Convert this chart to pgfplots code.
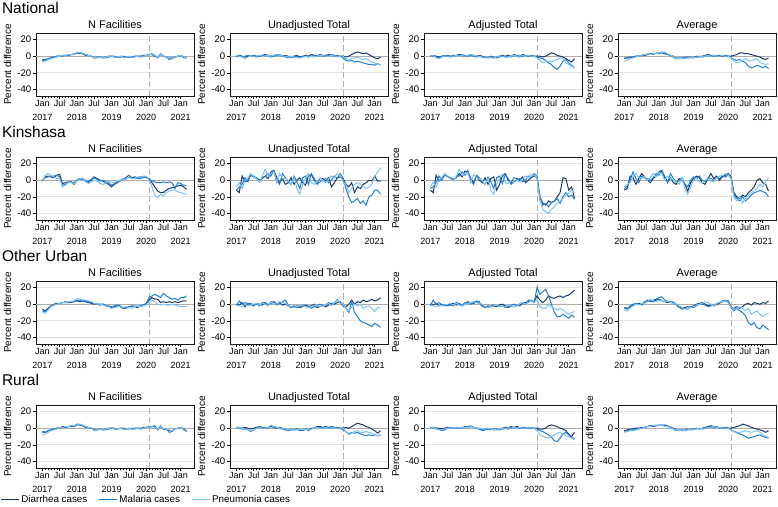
\documentclass[border=0pt]{standalone}
\usepackage{pgfplots}
\usepackage{pgfplotstable}
\pgfplotsset{compat=1.18}
\usepackage{fontspec}
\setmainfont{Liberation Sans}
\definecolor{cD}{HTML}{1B3A6B}
\definecolor{cM}{HTML}{1F7FD6}
\definecolor{cP}{HTML}{7DC3F2}

\pgfplotstableread{
m d ma pn
0 -4 -5 -7
1 -5 -4 -6
2 -3 -3 -4
3 -2 -2 -3
4 -1 -1 -2
5 0 0 -1
6 0 0 0
7 1 0 1
8 1 1 1
9 1 1 2
10 2 2 2
11 2 3 2
12 4 4 5
13 3 4 4
14 3 3 4
15 1 2 2
16 1 1 1
17 0 0 0
18 -2 -2 -2
19 -1 -2 -1
20 -1 -1 -1
21 -2 -2 -2
22 -1 -2 -1
23 0 -1 0
24 0 0 0
25 -1 0 -1
26 -1 -1 -1
27 -1 0 0
28 0 -1 -1
29 -1 -1 -1
30 -1 -1 0
31 -1 0 -1
32 0 -1 -1
33 0 0 0
34 0 -1 0
35 1 0 0
36 1 1 1
37 2 2 2
38 2 3 2
39 0 1 1
40 -1 -2 -1
41 2 3 2
42 0 0 0
43 -1 -1 -1
44 -2 -4 -2
45 -2 -3 -2
46 -1 -1 -1
47 0 0 0
48 1 1 1
49 -1 -2 -1
50 -2 -2 -2
}\tNatNF

\pgfplotstableread{
m d ma pn
0 0 1 1
1 1 0 0
2 0 -1 -1
3 -1 0 -3
4 0 1 -1
5 0 0 0
6 1 0 0
7 0 -1 0
8 0 0 1
9 1 1 0
10 2 0 0
11 1 1 1
12 0 -1 0
13 1 0 1
14 2 1 2
15 1 2 1
16 0 0 0
17 1 -1 0
18 0 -2 -1
19 -1 -1 0
20 0 -1 -1
21 1 0 -2
22 -1 -2 -2
23 0 -1 -1
24 1 0 0
25 0 -1 -1
26 2 0 0
27 1 1 -1
28 0 0 0
29 2 1 1
30 1 0 1
31 1 0 0
32 2 1 0
33 1 2 1
34 0 1 0
35 1 0 0
36 0 0 0
37 0 -2 0
38 -1 -5 -3
39 0 -6 -5
40 2 -5 -3
41 4 -7 -2
42 5 -6 -1
43 4 -7 -3
44 3 -8 -4
45 4 -9 -3
46 2 -10 -5
47 0 -10 -7
48 -2 -11 -8
49 -3 -9 -10
50 -1 -11 -10
}\tNatUn

\pgfplotstableread{
m d ma pn
0 0 1 0
1 1 0 1
2 0 -1 -2
3 -1 -2 -3
4 0 0 -1
5 0 1 0
6 1 0 0
7 0 -1 0
8 1 0 0
9 1 1 1
10 2 1 0
11 1 2 1
12 0 1 0
13 1 0 1
14 2 1 2
15 1 0 1
16 0 -1 0
17 1 0 0
18 0 -1 -1
19 -1 -2 -1
20 -2 -1 -1
21 -1 0 -2
22 -2 -1 -2
23 -1 -2 -1
24 0 -1 0
25 1 0 0
26 0 -1 -1
27 1 0 -1
28 0 -1 0
29 2 1 1
30 1 0 0
31 0 -1 0
32 2 0 1
33 1 1 0
34 0 0 1
35 1 0 0
36 0 0 0
37 0 -1 -2
38 0 -2 -5
39 -1 -3 -8
40 0 -5 -7
41 2 -8 -6
42 4 -10 -7
43 3 -14 -5
44 1 -16 -4
45 0 -12 -2
46 -1 -6 -3
47 -3 -4 -8
48 -5 -8 -10
49 -7 -11 -12
50 -3 -14 -14
}\tNatAd

\pgfplotstableread{
m d ma pn
0 -2 -3 -6
1 -2 -2 -5
2 -1 -2 -3
3 -1 -1 -2
4 0 0 -1
5 0 0 0
6 1 1 1
7 1 2 2
8 2 2 3
9 3 3 2
10 3 2 3
11 3 4 3
12 4 3 4
13 4 5 4
14 3 4 5
15 2 2 3
16 1 1 1
17 0 -1 0
18 -2 -3 -2
19 -3 -2 -3
20 -2 -3 -2
21 -2 -1 -3
22 -1 -2 -2
23 -1 -2 -1
24 -2 -1 -2
25 0 -1 -1
26 -1 0 -1
27 0 -1 0
28 1 0 0
29 2 1 1
30 1 0 0
31 1 0 1
32 0 1 0
33 1 0 0
34 0 0 1
35 1 0 0
36 0 0 0
37 0 -2 -2
38 1 -4 -6
39 2 -5 -8
40 4 -4 -7
41 4 -6 -5
42 3 -8 -3
43 3 -12 -5
44 2 -14 -6
45 1 -13 -4
46 0 -11 -3
47 -1 -12 -7
48 -3 -14 -9
49 -4 -12 -10
50 -2 -15 -9
}\tNatAv

\pgfplotstableread{
m d ma pn
0 -1 0 -2
1 4 3 6
2 5 4 8
3 4 5 6
4 3 5 4
5 6 6 2
6 7 4 2
7 -4 -6 -8
8 -3 -5 -6
9 -2 -3 -2
10 -2 -2 -3
11 -5 -3 -4
12 0 0 -1
13 1 2 1
14 2 1 3
15 -1 0 -2
16 -2 -3 -4
17 1 0 -2
18 4 3 0
19 2 1 -1
20 0 -1 -4
21 -1 0 -5
22 -3 -2 -3
23 -5 -3 -1
24 -8 -6 -2
25 -5 -4 -3
26 -3 -2 -1
27 0 -1 0
28 1 2 1
29 3 2 1
30 6 4 5
31 3 2 2
32 4 3 2
33 3 2 4
34 4 2 3
35 4 3 5
36 3 4 5
37 2 1 0
38 -3 -1 -8
39 -8 -2 -18
40 -13 -3 -21
41 -15 -3 -17
42 -15 -2 -19
43 -12 -3 -15
44 -10 -2 -13
45 -9 -3 -12
46 -8 -10 -12
47 -7 -3 -14
48 -6 -4 -15
49 -8 -6 -16
50 -11 -7 -17
}\tKinNF

\pgfplotstableread{
m d ma pn
0 -12 -12 -8
1 -15 -8 -3
2 5 -5 -10
3 -2 3 0
4 0 -2 3
5 6 7 8
6 4 5 4
7 3 2 2
8 0 -2 -2
9 2 3 5
10 5 5 13
11 2 8 5
12 10 5 8
13 12 12 10
14 3 0 -3
15 -3 -5 8
16 2 8 2
17 -5 3 2
18 -3 -2 0
19 3 -5 -5
20 -5 5 3
21 0 -2 -10
22 3 -10 -17
23 -3 3 -5
24 -6 5 3
25 5 -5 8
26 7 8 -3
27 0 2 -5
28 -3 -5 -2
29 2 -2 3
30 2 0 0
31 -1 2 -3
32 3 -3 2
33 -8 0 5
34 -3 5 3
35 3 2 8
36 4 8 6
37 2 3 -2
38 -5 -10 -5
39 -8 -20 -15
40 -3 -27 -10
41 -15 -25 -5
42 -8 -22 -3
43 -10 -28 -5
44 -5 -25 -8
45 -3 -30 -10
46 0 -20 -8
47 -1 -18 -5
48 5 -12 5
49 -1 -12 10
50 -1 -17 15
}\tKinUn

\pgfplotstableread{
m d ma pn
0 -12 -10 -8
1 -15 -8 -2
2 6 -3 -8
3 -1 5 0
4 2 0 3
5 6 7 8
6 5 4 5
7 3 2 2
8 1 0 -1
9 3 4 5
10 8 5 13
11 4 10 6
12 11 6 8
13 10 12 9
14 2 0 -3
15 -3 -5 7
16 5 6 3
17 0 3 2
18 -3 -2 0
19 3 -5 -5
20 -5 4 2
21 2 -2 -12
22 4 -10 -17
23 -12 3 -5
24 -5 5 3
25 5 -4 7
26 8 7 -3
27 0 2 -4
28 -3 -5 -1
29 3 -2 3
30 2 0 0
31 0 2 -2
32 4 -2 2
33 -3 0 5
34 0 5 3
35 3 3 7
36 5 8 6
37 3 5 2
38 -20 -20 -25
39 -28 -30 -35
40 -30 -28 -38
41 -25 -32 -40
42 -27 -27 -35
43 -25 -25 -32
44 -20 -22 -28
45 -15 -28 -25
46 3 -20 -22
47 2 -15 -18
48 -12 -20 -15
49 -8 -18 -12
50 -22 -23 -15
}\tKinAd

\pgfplotstableread{
m d ma pn
0 -12 -10 -8
1 -10 -7 -5
2 5 0 -3
3 3 10 5
4 -5 2 8
5 2 -3 3
6 8 5 2
7 4 3 5
8 0 2 0
9 -3 0 3
10 2 3 8
11 5 8 4
12 10 6 9
13 12 11 8
14 3 5 0
15 -2 -3 5
16 3 8 2
17 -3 2 0
18 -5 -3 -2
19 2 0 -5
20 0 3 3
21 -5 -5 -10
22 -13 -8 -17
23 -3 0 -8
24 2 4 0
25 5 2 3
26 3 5 -2
27 -3 0 -3
28 -5 -2 0
29 2 3 2
30 8 2 -1
31 2 0 -2
32 5 3 3
33 0 2 5
34 4 5 6
35 6 4 8
36 8 6 7
37 5 3 2
38 -15 -18 -20
39 -20 -22 -25
40 -22 -25 -20
41 -18 -20 -27
42 -20 -25 -22
43 -15 -22 -18
44 -12 -18 -15
45 -8 -15 -13
46 0 -14 -10
47 2 -12 -5
48 -3 -14 -8
49 -5 -15 -2
50 -13 -20 3
}\tKinAv

\pgfplotstableread{
m d ma pn
0 -6 -8 -10
1 -8 -9 -11
2 -5 -6 -7
3 -2 -3 -3
4 0 -1 -1
5 1 0 0
6 1 1 1
7 2 2 2
8 3 2 2
9 2 2 3
10 2 3 3
11 3 3 4
12 4 5 7
13 3 4 6
14 4 5 5
15 3 4 5
16 2 3 4
17 1 2 3
18 0 1 1
19 0 0 0
20 -1 0 0
21 0 0 -1
22 -2 -1 -1
23 -3 -2 -3
24 -4 -3 -5
25 -3 -2 -4
26 -2 -1 -3
27 -3 -2 -3
28 -5 -4 -4
29 -4 -5 -3
30 -3 -3 -4
31 -2 -3 -5
32 -3 -2 -3
33 -4 -3 -2
34 -2 -2 -3
35 -1 -1 -2
36 0 1 -1
37 5 8 3
38 8 10 5
39 6 12 3
40 6 10 0
41 2 8 -1
42 3 13 0
43 2 10 -1
44 3 8 -1
45 2 6 0
46 3 7 -1
47 2 5 -2
48 3 8 -3
49 4 8 -3
50 4 10 -3
}\tOUNF

\pgfplotstableread{
m d ma pn
0 0 -2 -1
1 -1 4 -2
2 2 0 -3
3 -3 2 0
4 1 0 -2
5 0 1 -1
6 -2 -1 0
7 1 0 1
8 0 -2 -1
9 -1 2 1
10 2 1 0
11 -1 -1 -2
12 1 3 2
13 3 2 1
14 0 -1 0
15 2 1 3
16 -1 3 2
17 0 5 1
18 -2 -1 -2
19 -4 -3 -3
20 -3 -2 -4
21 -2 -4 -3
22 -4 -3 -1
23 -3 -1 -2
24 -1 -3 -3
25 -3 -2 -4
26 -2 -5 -3
27 0 -3 -1
28 -4 -2 -2
29 -3 0 -3
30 -1 -2 -2
31 -3 -1 0
32 -1 2 1
33 1 0 -2
34 0 2 2
35 2 5 6
36 3 2 1
37 -2 0 0
38 -3 -5 -5
39 0 -10 -8
40 5 3 -3
41 0 -10 0
42 3 -15 -2
43 2 -20 0
44 5 -22 -5
45 3 -23 -3
46 4 -25 -2
47 6 -27 -5
48 4 -23 -9
49 5 -25 -4
50 8 -28 -5
}\tOUUn

\pgfplotstableread{
m d ma pn
0 0 -2 -1
1 -1 5 -2
2 1 0 -3
3 -2 2 -1
4 0 -1 -2
5 -2 0 -1
6 -1 -2 0
7 0 -1 1
8 1 -2 -1
9 -1 2 1
10 0 1 -1
11 -2 -1 -2
12 0 2 0
13 3 1 1
14 2 0 2
15 1 2 3
16 3 4 2
17 1 3 1
18 -2 -3 0
19 -4 -3 -3
20 -2 -4 -4
21 -3 -2 -3
22 -2 -1 -2
23 -3 -2 -1
24 -1 -3 -3
25 0 -2 -2
26 -2 -4 -3
27 -4 -3 -1
28 -2 -1 -2
29 -3 0 -3
30 -1 -2 -2
31 -2 -1 1
32 1 2 2
33 2 0 0
34 3 5 2
35 4 5 4
36 3 2 2
37 10 20 5
38 5 12 -3
39 2 15 -5
40 5 18 -5
41 10 10 0
42 8 0 -3
43 7 -10 -5
44 9 -15 -7
45 10 -15 -5
46 8 -12 -7
47 10 -15 -10
48 11 -17 -12
49 14 -13 -10
50 17 -16 -9
}\tOUAd

\pgfplotstableread{
m d ma pn
0 -4 -5 -7
1 -5 -6 -8
2 -3 -2 -5
3 -1 0 -2
4 0 1 0
5 1 0 -1
6 0 -1 1
7 2 3 1
8 5 4 3
9 4 3 6
10 3 5 4
11 5 6 3
12 6 8 5
13 4 9 4
14 3 5 3
15 2 3 4
16 3 2 2
17 1 3 1
18 0 -1 0
19 -3 -4 -2
20 -5 -6 -4
21 -4 -5 -6
22 -3 -6 -5
23 -4 -3 -4
24 -2 -4 -3
25 0 -2 -1
26 1 0 0
27 2 0 1
28 0 -1 3
29 -2 -3 2
30 -1 -2 0
31 -2 -1 -2
32 0 1 1
33 1 2 2
34 3 4 3
35 4 5 4
36 4 3 2
37 -3 -4 -3
38 -5 -8 -6
39 -3 -5 -5
40 -5 -8 -3
41 -3 -10 -5
42 0 -14 -8
43 1 -22 -5
44 -1 -25 -12
45 2 -22 -10
46 1 -28 -8
47 0 -30 -12
48 2 -25 -15
49 1 -28 -12
50 4 -31 -11
}\tOUAv

\pgfplotstableread{
m d ma pn
0 -4 -5 -8
1 -5 -5 -7
2 -3 -3 -5
3 -2 -2 -3
4 -1 -1 -2
5 0 0 -1
6 0 0 0
7 2 1 1
8 1 1 2
9 2 2 2
10 2 3 3
11 2 2 3
12 4 5 5
13 4 4 5
14 3 3 4
15 1 2 2
16 1 1 1
17 0 0 0
18 -2 -2 -3
19 -2 -2 -2
20 -1 -1 -1
21 -2 -2 -2
22 -1 -2 -1
23 0 -1 0
24 0 0 0
25 0 -1 0
26 -1 -1 -1
27 0 0 0
28 0 -1 -1
29 -1 -1 -1
30 0 -1 0
31 -1 0 -1
32 0 -1 -1
33 0 0 0
34 0 -1 0
35 1 0 0
36 1 1 1
37 1 2 1
38 2 2 2
39 2 3 1
40 -1 -2 -1
41 2 3 2
42 -1 -1 0
43 -1 -1 -1
44 -3 -5 -2
45 -3 -4 -3
46 -1 -1 -1
47 0 0 0
48 1 1 1
49 -1 -2 -2
50 -3 -4 -4
}\tRuNF

\pgfplotstableread{
m d ma pn
0 1 1 0
1 1 0 1
2 0 -1 0
3 1 -1 -1
4 0 -2 -2
5 -1 -4 -3
6 0 -2 -2
7 1 0 0
8 2 1 1
9 1 0 0
10 0 1 0
11 1 0 1
12 2 3 1
13 1 2 2
14 0 1 1
15 1 0 0
16 0 -1 0
17 -1 -2 -1
18 -2 -3 -2
19 -1 -2 -1
20 -2 -2 -2
21 -1 -1 -2
22 -2 -3 -1
23 -3 -2 -2
24 -1 -1 -1
25 -2 -3 -2
26 0 -1 -1
27 0 0 0
28 2 1 1
29 2 1 0
30 1 0 0
31 2 1 1
32 1 0 0
33 2 0 1
34 1 1 0
35 1 0 0
36 0 0 0
37 0 -2 0
38 1 -4 -4
39 0 -7 -8
40 2 -5 -6
41 4 -6 -4
42 6 -5 -3
43 5 -7 -5
44 4 -8 -5
45 2 -9 -4
46 1 -8 -5
47 -1 -9 -6
48 -3 -8 -8
49 -6 -9 -9
50 -3 -8 -9
}\tRuUn

\pgfplotstableread{
m d ma pn
0 1 1 0
1 1 0 1
2 0 0 -1
3 0 -1 -2
4 -1 -3 -2
5 0 -2 -1
6 1 0 0
7 0 1 0
8 1 0 1
9 0 1 0
10 1 0 1
11 0 1 0
12 2 1 1
13 1 2 1
14 2 3 2
15 1 1 1
16 0 0 0
17 -1 -1 0
18 -2 -3 -1
19 -1 -2 -1
20 0 -1 0
21 -1 -2 -1
22 -2 -1 -2
23 -1 -2 -1
24 -2 -1 -1
25 0 -1 0
26 1 0 0
27 0 -1 0
28 2 1 0
29 1 0 1
30 2 1 0
31 1 0 1
32 1 0 0
33 0 1 0
34 1 0 1
35 0 0 0
36 0 0 0
37 0 -1 -3
38 -1 -3 -8
39 -1 -4 -10
40 0 -6 -11
41 3 -8 -12
42 4 -11 -10
43 3 -15 -8
44 2 -16 -6
45 0 -12 -5
46 -1 -7 -7
47 -3 -5 -9
48 -7 -8 -10
49 -10 -11 -12
50 -5 -13 -14
}\tRuAd

\pgfplotstableread{
m d ma pn
0 -3 -4 -5
1 -2 -3 -4
2 -1 -2 -3
3 -1 -1 -3
4 0 -2 -2
5 0 -1 -1
6 1 0 0
7 1 1 1
8 2 2 2
9 3 3 2
10 2 3 3
11 3 3 4
12 3 4 3
13 4 3 4
14 3 4 2
15 2 3 2
16 1 1 0
17 0 -1 -1
18 -2 -3 -2
19 -3 -2 -3
20 -2 -3 -2
21 -3 -2 -3
22 -1 -2 -2
23 -2 -1 -1
24 -1 -1 -2
25 0 -1 0
26 -1 0 -1
27 0 -1 0
28 1 0 0
29 2 1 1
30 3 2 1
31 2 1 2
32 1 2 1
33 1 0 1
34 0 1 0
35 1 0 0
36 0 0 0
37 0 -2 -2
38 1 -4 -4
39 2 -5 -6
40 3 -7 -5
41 5 -8 -4
42 4 -10 -3
43 3 -12 -4
44 1 -11 -5
45 0 -10 -4
46 -1 -9 -3
47 -2 -8 -5
48 -3 -10 -8
49 -5 -11 -10
50 -3 -12 -11
}\tRuAv

\pgfplotsset{panel/.style={
  scale only axis, width=158pt, height=63pt,
  anchor=north west,
  xmin=-2.2, xmax=52.6, ymin=-48, ymax=28,
  xtick={0,6,...,48},
  xticklabels={{Jan\\2017},Jul,{Jan\\2018},Jul,{Jan\\2019},Jul,{Jan\\2020},Jul,{Jan\\2021}},
  minor x tick num=5,
  ytick={-40,-20,0,20}, yticklabels={-40,-20,0,20},
  tick align=outside, major tick length=3pt, minor tick length=1.6pt,
  xtick pos=bottom, ytick pos=left,
  tick style={black, line width=0.5pt},
  ymajorgrids, major grid style={gray!22, line width=0.8pt},
  axis line style={black!90, line width=0.7pt},
  xticklabel style={font=\fontsize{9}{14.5}\selectfont, align=center, anchor=north, inner sep=1pt},
  yticklabel style={font=\fontsize{9.6}{11}\selectfont, inner sep=1.5pt},
  title style={font=\fontsize{11}{13}\selectfont, at={(0.5,1)}, anchor=base, yshift=-1.5pt},
  ylabel={Percent difference},
  ylabel style={font=\fontsize{10}{11}\selectfont, at={(axis description cs:-0.18,0.5)}, anchor=center},
  every axis plot/.append style={line width=1pt},
  legend style={at={(axis description cs:-0.228,-0.50)}, anchor=west, draw=none, fill=none,
    font=\fontsize{9.8}{11}\selectfont, inner sep=0pt, legend columns=3,
    /tikz/every even column/.append style={column sep=9pt}},
  legend image code/.code={\draw[#1, line width=1.2pt] (0pt,0pt) -- (18pt,0pt);},
}}

\newcommand{\panel}[5]{%
\begin{axis}[panel, at={(#1pt,-#2pt)}, title={#3}]
\addplot[gray!65, line width=1.2pt, forget plot] coordinates {(-3,0) (54,0)};
\addplot[gray!60, line width=1pt, dash pattern=on 6pt off 3pt, forget plot] coordinates {(37,-48) (37,28)};
\addplot[cD] table[x=m, y=d] {#4};
\addplot[cM] table[x=m, y=ma] {#4};
\addplot[cP] table[x=m, y=pn] {#4};
#5
\end{axis}}

\begin{document}
\begin{tikzpicture}
\useasboundingbox (0,0) rectangle (778pt,-506pt);
\tikzset{head/.style={anchor=base west, font=\fontsize{15.5}{18}\selectfont, inner sep=0pt}}
\node[head] at (1.8pt,-13.3pt) {National};
\node[head] at (1.8pt,-137.5pt) {Kinshasa};
\node[head] at (1.8pt,-261.5pt) {Other Urban};
\node[head] at (1.8pt,-385.5pt) {Rural};

\panel{36}{33}{N Facilities}{\tNatNF}{}
\panel{230}{33}{Unadjusted Total}{\tNatUn}{}
\panel{424}{33}{Adjusted Total}{\tNatAd}{}
\panel{618}{33}{Average}{\tNatAv}{}

\panel{36}{157}{N Facilities}{\tKinNF}{}
\panel{230}{157}{Unadjusted Total}{\tKinUn}{}
\panel{424}{157}{Adjusted Total}{\tKinAd}{}
\panel{618}{157}{Average}{\tKinAv}{}

\panel{36}{281}{N Facilities}{\tOUNF}{}
\panel{230}{281}{Unadjusted Total}{\tOUUn}{}
\panel{424}{281}{Adjusted Total}{\tOUAd}{}
\panel{618}{281}{Average}{\tOUAv}{}

\panel{36}{405}{N Facilities}{\tRuNF}{\legend{Diarrhea cases,Malaria cases,Pneumonia cases}}
\panel{230}{405}{Unadjusted Total}{\tRuUn}{}
\panel{424}{405}{Adjusted Total}{\tRuAd}{}
\panel{618}{405}{Average}{\tRuAv}{}
\end{tikzpicture}
\end{document}
